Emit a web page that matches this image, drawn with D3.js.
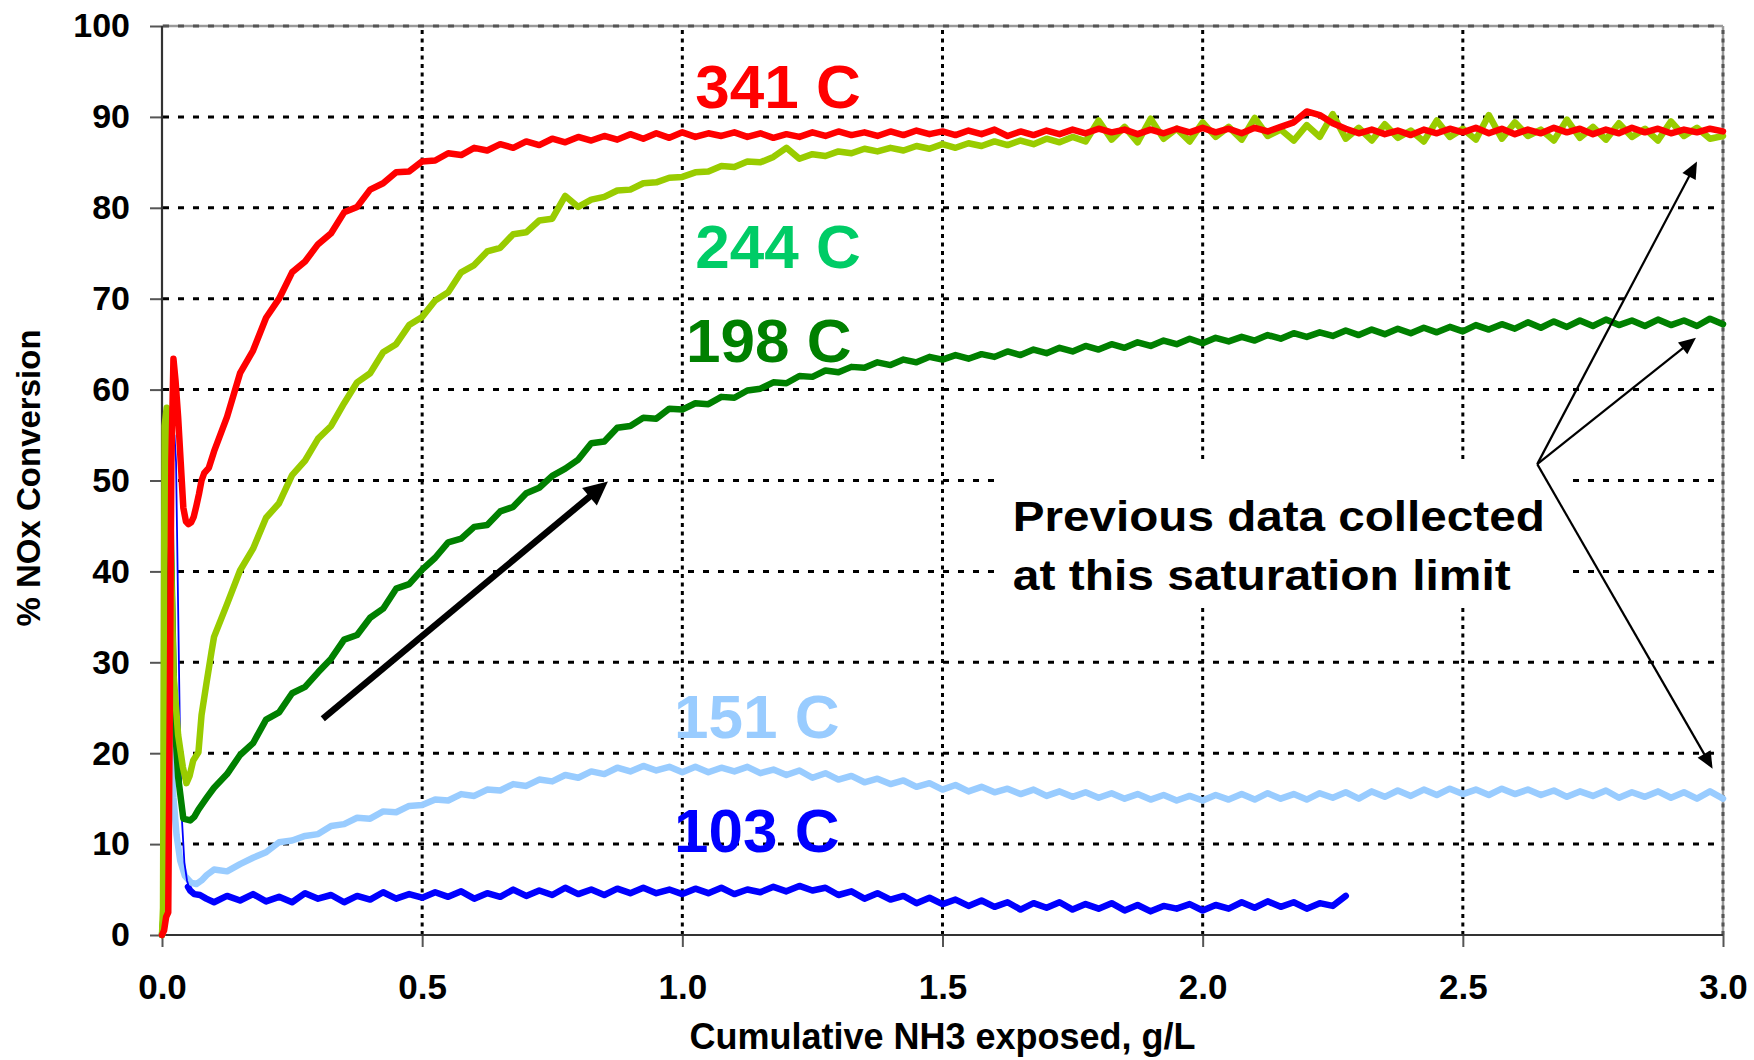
<!DOCTYPE html>
<html><head><meta charset="utf-8">
<script src="https://cdn.jsdelivr.net/npm/d3@7"></script>
<style>
body{margin:0;background:#fff}
text{font-family:"Liberation Sans",Arial,Helvetica,sans-serif;font-weight:bold}
</style>
</head><body>
<svg id="c" width="1754" height="1060"></svg>
<script>
// ---------- DATA ----------
const yTicks = [0,10,20,30,40,50,60,70,80,90,100];
const xTicks = [0,0.5,1.0,1.5,2.0,2.5,3.0];
const xTickLabels = ["0.0","0.5","1.0","1.5","2.0","2.5","3.0"];
const xTitle = "Cumulative NH3 exposed, g/L";
const yTitle = "% NOx Conversion";

const xMain = [0.1,0.125,0.15,0.175,0.2,0.225,0.25,0.275,0.3,0.325,0.35,0.375,0.4,0.425,0.45,0.475,0.5,0.525,0.55,0.575,0.6,0.625,0.65,0.675,0.7,0.725,0.75,0.775,0.8,0.825,0.85,0.875,0.9,0.925,0.95,0.975,1.0,1.025,1.05,1.075,1.1,1.125,1.15,1.175,1.2,1.225,1.25,1.275,1.3,1.325,1.35,1.375,1.4,1.425,1.45,1.475,1.5,1.525,1.55,1.575,1.6,1.625,1.65,1.675,1.7,1.725,1.75,1.775,1.8,1.825,1.85,1.875,1.9,1.925,1.95,1.975,2.0,2.025,2.05,2.075,2.1,2.125,2.15,2.175,2.2,2.225,2.25,2.275,2.3,2.325,2.35,2.375,2.4,2.425,2.45,2.475,2.5,2.525,2.55,2.575,2.6,2.625,2.65,2.675,2.7,2.725,2.75,2.775,2.8,2.825,2.85,2.875,2.9,2.925,2.95,2.975,3.0];

// 341 C
const redStartX = [0,0.004,0.008,0.012,0.015,0.018,0.022,0.026,0.031,0.036,0.041,0.046,0.051,0.056,0.061,0.066,0.071,0.076,0.081,0.09];
const redStartY = [0,0.5,2,2.5,25,52,63.4,61,57,52,47,45.5,45.2,45.4,46,47.2,48.5,50,50.8,51.4];
const redMain = [53.2,57.0,61.8,64.3,67.9,70.0,72.9,74.1,76.0,77.2,79.5,80.1,82.0,82.7,83.9,84.0,85.1,85.2,86.0,85.8,86.6,86.3,87.0,86.6,87.3,86.9,87.6,87.2,87.8,87.4,87.9,87.5,88.1,87.6,88.2,87.7,88.3,87.8,88.2,87.9,88.3,87.8,88.2,87.7,88.1,87.8,88.3,87.9,88.4,88.0,88.3,87.9,88.4,88.0,88.5,88.1,88.4,88.0,88.5,88.1,88.6,87.9,88.4,88.0,88.5,88.1,88.6,88.2,88.7,88.3,88.6,88.1,88.6,88.2,88.7,88.3,88.8,88.3,88.7,88.2,88.8,88.4,88.9,89.4,90.6,90.2,89.3,88.7,88.2,88.6,88.1,88.5,88.0,88.6,88.2,88.7,88.3,88.8,88.2,88.7,88.1,88.6,88.2,88.8,88.3,88.7,88.1,88.6,88.2,88.8,88.3,88.7,88.2,88.6,88.3,88.7,88.4];

// 244 C
const ygStartX = [0,0.002,0.005,0.009,0.013,0.017,0.022,0.031,0.04,0.047,0.053,0.06,0.07,0.076,0.086,0.095];
const ygStartY = [0,3,56,58,54,42,28.8,22,18.5,16.7,17.5,19.2,20.1,24.2,27.9,31.1];
const ygMain = [32.8,36.4,40.1,42.5,45.9,47.5,50.6,52.2,54.6,56.0,58.5,60.8,61.8,64.1,65.0,67.1,68.0,69.8,70.7,72.9,73.7,75.2,75.6,77.1,77.3,78.6,78.8,81.3,80.1,80.9,81.2,81.9,82.0,82.7,82.8,83.3,83.4,83.9,84.0,84.6,84.5,85.1,85.0,85.6,86.6,85.4,85.9,85.7,86.2,86.0,86.5,86.2,86.6,86.3,86.8,86.5,87.0,86.6,87.1,86.8,87.3,86.9,87.4,87.0,87.6,87.2,87.8,87.3,89.6,87.5,88.9,87.2,89.8,87.6,88.7,87.3,89.4,87.8,88.9,87.5,89.9,87.9,88.6,87.4,89.1,87.8,90.3,87.6,88.8,87.4,89.2,87.7,88.5,87.3,89.6,87.8,88.7,87.5,90.2,87.6,89.4,87.9,88.6,87.4,89.7,87.7,88.9,87.5,89.3,87.8,88.7,87.4,89.5,87.9,88.8,87.6,87.9];

// 198 C
const dgStartX = [0,0.003,0.007,0.011,0.015,0.019,0.024,0.031,0.041,0.054,0.062,0.07,0.086];
const dgStartY = [0,2,35,52,50,38,24,17.4,12.8,12.6,13.0,13.8,15.1];
const dgMain = [16.2,17.7,19.8,21.1,23.7,24.5,26.6,27.3,28.9,30.4,32.5,33.0,34.9,35.9,38.1,38.6,40.2,41.5,43.2,43.6,44.9,45.1,46.6,47.1,48.6,49.2,50.5,51.3,52.3,54.1,54.3,55.8,56.0,56.9,56.8,57.9,57.8,58.5,58.4,59.2,59.1,59.9,60.1,60.8,60.7,61.5,61.4,62.1,61.9,62.5,62.4,63.0,62.7,63.3,63.0,63.6,63.3,63.8,63.4,63.9,63.6,64.2,63.8,64.4,64.0,64.6,64.2,64.8,64.4,65.0,64.6,65.2,64.8,65.4,65.0,65.6,65.1,65.7,65.3,65.8,65.4,66.0,65.6,66.2,65.8,66.3,65.9,66.5,66.0,66.6,66.1,66.7,66.2,66.8,66.3,66.9,66.4,67.1,66.6,67.2,66.7,67.4,66.8,67.5,66.9,67.6,67.0,67.7,67.1,67.6,67.0,67.7,67.1,67.6,67.0,67.8,67.2];

// 151 C
const lbStartX = [0,0.003,0.006,0.01,0.015,0.022,0.028,0.035,0.044,0.055,0.066,0.076,0.086];
const lbStartY = [0,2,25,30,22,15.1,11,8.2,6.5,5.8,5.6,6.0,6.6];
const lbMain = [7.2,7.0,7.8,8.5,9.1,10.2,10.4,10.9,11.1,12.0,12.2,12.9,12.8,13.6,13.5,14.2,14.3,14.9,14.8,15.5,15.3,16.0,15.9,16.6,16.4,17.1,16.9,17.6,17.3,18.0,17.7,18.4,18.0,18.6,18.1,18.5,17.9,18.5,17.9,18.4,18.0,18.5,17.8,18.2,17.6,18.1,17.3,17.8,17.1,17.5,16.8,17.2,16.6,17.0,16.3,16.7,16.0,16.5,15.8,16.3,15.7,16.1,15.5,16.0,15.3,15.8,15.2,15.7,15.1,15.6,15.0,15.5,14.9,15.4,14.8,15.3,14.8,15.4,14.9,15.5,14.9,15.6,15.0,15.5,14.9,15.6,15.1,15.7,15.0,15.8,15.2,15.9,15.3,16.0,15.4,16.1,15.5,16.0,15.4,16.1,15.5,16.0,15.4,15.9,15.2,15.8,15.3,15.9,15.1,15.7,15.2,15.8,15.1,15.7,15.0,15.8,15.0];

// 103 C
const blSpikeX = [0,0.004,0.008,0.012,0.016,0.02,0.024,0.027,0.03,0.034,0.038,0.043,0.048,0.052];
const blSpikeY = [0,3,20,38,48,53,55,52,40,24,13,8,6,5.2];
const blStartX = [0.05,0.054,0.062,0.073,0.085];
const blStartY = [5.3,4.9,4.5,4.4,4.0];
const blMain = [3.6,4.3,3.8,4.5,3.7,4.2,3.6,4.6,4.0,4.4,3.6,4.3,3.9,4.7,4.0,4.5,4.1,4.7,4.2,4.8,4.0,4.6,4.2,5.0,4.3,4.9,4.4,5.2,4.5,5.0,4.4,5.1,4.6,5.2,4.6,5.0,4.5,5.1,4.6,5.2,4.5,5.0,4.7,5.3,4.8,5.4,4.9,5.2,4.4,4.8,4.0,4.6,3.9,4.3,3.5,4.1,3.4,3.9,3.2,3.8,3.1,3.6,2.8,3.5,3.0,3.6,2.8,3.4,2.9,3.5,2.7,3.3,2.6,3.2,2.9,3.4,2.7,3.3,2.9,3.6,3.0,3.7,3.1,3.6,2.9,3.5,3.2,4.3];

const seriesNames = ["341 C","244 C","198 C","151 C","103 C"];
const seriesColors = ["#ff0000","#99cc00","#008000","#99ccff","#0000ff"];
const labelColors = ["#ff0000","#00cc66","#008000","#99ccff","#0000ff"];
// label anchor positions in data units [x, y]
const labelX = [1.025,1.025,1.007,0.984,0.984];
const labelY = [91.0,73.35,63.07,21.64,9.16];

const noteLines = ["Previous data collected","at this saturation limit"];
// arrows in data units
const thickArrow = {x0:0.309,y0:23.8,x1:0.857,y1:49.9};
const noteArrowOrigin = [2.643,51.8];
const noteArrowTips = [[2.950,85.1],[2.948,65.7],[2.980,18.3]];

// ---------- CHART ----------
const svg = d3.select("#c");
const x = d3.scaleLinear().domain([0,3]).range([162,1723]);
const y = d3.scaleLinear().domain([0,100]).range([935,26]);

const mk = (xs, ys) => xs.map((v,i)=>[v, ys[i]]);
const redPts = mk(redStartX, redStartY).concat(mk(xMain, redMain));
const ygPts = mk(ygStartX, ygStartY).concat(mk(xMain, ygMain));
const dgPts = mk(dgStartX, dgStartY).concat(mk(xMain, dgMain));
const lbPts = mk(lbStartX, lbStartY).concat(mk(xMain, lbMain));
const blPts = mk(blStartX, blStartY).concat(mk(xMain.slice(0, blMain.length), blMain));
const blSpike = mk(blSpikeX, blSpikeY);

// frame top/right (gray)
svg.append("line").attr("x1",x(0)).attr("x2",x(3)).attr("y1",y(100)).attr("y2",y(100))
  .attr("stroke","#9a9a9a").attr("stroke-width",2.5);
svg.append("line").attr("x1",x(3)).attr("x2",x(3)).attr("y1",y(0)).attr("y2",y(100))
  .attr("stroke","#9a9a9a").attr("stroke-width",2.5);

// gridlines
svg.append("g").selectAll("line").data(yTicks.filter(d=>d>0)).join("line")
  .attr("x1",x(0)+1).attr("x2",x(3)).attr("y1",d=>y(d)).attr("y2",d=>y(d))
  .attr("stroke",d=>d===100?"#555":"#000").attr("stroke-width",3).attr("stroke-dasharray","6,9");
svg.append("g").selectAll("line").data(xTicks.filter(d=>d>0)).join("line")
  .attr("x1",d=>x(d)).attr("x2",d=>x(d)).attr("y1",y(0)).attr("y2",y(100))
  .attr("stroke",d=>d===3?"#555":"#000").attr("stroke-width",3).attr("stroke-dasharray","4,4.5");

// axes
const yAxis = d3.axisLeft(y).tickValues(yTicks).tickSize(12).tickPadding(20).tickFormat(d=>String(d));
const gy = svg.append("g").attr("transform",`translate(${x(0)},0)`).call(yAxis);
gy.select(".domain").remove();
gy.selectAll(".tick line").attr("stroke","#555").attr("stroke-width",2);
gy.selectAll(".tick text").attr("font-size",34).attr("fill","#000")
  .attr("font-family","'Liberation Sans',Arial,sans-serif").attr("font-weight","bold");

const xAxis = d3.axisBottom(x).tickValues(xTicks).tickSize(12).tickPadding(27).tickFormat((d,i)=>xTickLabels[i]);
const gx = svg.append("g").attr("transform",`translate(0,${y(0)})`).call(xAxis);
gx.select(".domain").remove();
gx.selectAll(".tick line").attr("stroke","#555").attr("stroke-width",2);
gx.selectAll(".tick text").attr("font-size",35).attr("fill","#000")
  .attr("font-family","'Liberation Sans',Arial,sans-serif").attr("font-weight","bold");

svg.append("line").attr("x1",x(0)).attr("x2",x(0)).attr("y1",y(0)+1).attr("y2",y(100))
  .attr("stroke","#333").attr("stroke-width",2.2);
svg.append("line").attr("x1",x(0)).attr("x2",x(3)).attr("y1",y(0)).attr("y2",y(0))
  .attr("stroke","#333").attr("stroke-width",2.2);

// white box behind note
svg.append("rect").attr("x",x(1.61)).attr("y",y(52)).attr("width",x(2.70)-x(1.61)).attr("height",y(36)-y(52))
  .attr("fill","#fff");

// series
const line = d3.line().x(d=>x(d[0])).y(d=>y(d[1]));
function draw(pts, color, w){
  svg.append("path").datum(pts).attr("d",line).attr("fill","none").attr("stroke",color)
    .attr("stroke-width",w).attr("stroke-linejoin","round").attr("stroke-linecap","round");
}
draw(blPts, seriesColors[4], 6.5);
draw(lbPts, seriesColors[3], 6.5);
draw(blSpike, seriesColors[4], 1.8);
draw(dgPts, seriesColors[2], 6.5);
draw(ygPts, seriesColors[1], 6.5);
draw(redPts, seriesColors[0], 6.5);

// arrows
function arrow(x0,y0,x1,y1,w,L,W){
  const p0=[x(x0),y(y0)], p1=[x(x1),y(y1)];
  const dx=p1[0]-p0[0], dy=p1[1]-p0[1], len=Math.hypot(dx,dy);
  const ux=dx/len, uy=dy/len, nx=-uy, ny=ux;
  const bx=p1[0]-ux*L, by=p1[1]-uy*L;
  svg.append("line").attr("x1",p0[0]).attr("y1",p0[1]).attr("x2",bx+ux*2).attr("y2",by+uy*2)
    .attr("stroke","#000").attr("stroke-width",w);
  svg.append("polygon").attr("points",
    [[p1[0],p1[1]],[bx+nx*W,by+ny*W],[bx-nx*W,by-ny*W]].map(p=>p.join(",")).join(" "))
    .attr("fill","#000");
}
arrow(thickArrow.x0,thickArrow.y0,thickArrow.x1,thickArrow.y1,6.5,24,11.5);
noteArrowTips.forEach(t=>arrow(noteArrowOrigin[0],noteArrowOrigin[1],t[0],t[1],2.2,17,7.5));

// series labels
svg.append("g").selectAll("text").data(seriesNames).join("text")
  .attr("x",(d,i)=>x(labelX[i])).attr("y",(d,i)=>y(labelY[i]))
  .attr("fill",(d,i)=>labelColors[i]).attr("font-size",62).text(d=>d);

// note text
const noteW = [532, 498];
svg.append("g").selectAll("text").data(noteLines).join("text")
  .attr("x",x(1.635)).attr("y",(d,i)=>y(i===0?44.45:37.95))
  .attr("font-size",43).attr("fill","#000")
  .attr("textLength",(d,i)=>noteW[i]).attr("lengthAdjust","spacingAndGlyphs")
  .text(d=>d);

// axis titles
svg.append("text").attr("x",(x(0)+x(3))/2).attr("y",1049).attr("text-anchor","middle")
  .attr("font-size",36).attr("fill","#000").text(xTitle);
svg.append("text").attr("transform","translate(40,478) rotate(-90)").attr("text-anchor","middle")
  .attr("font-size",33).attr("fill","#000").text(yTitle);
</script>
</body></html>
